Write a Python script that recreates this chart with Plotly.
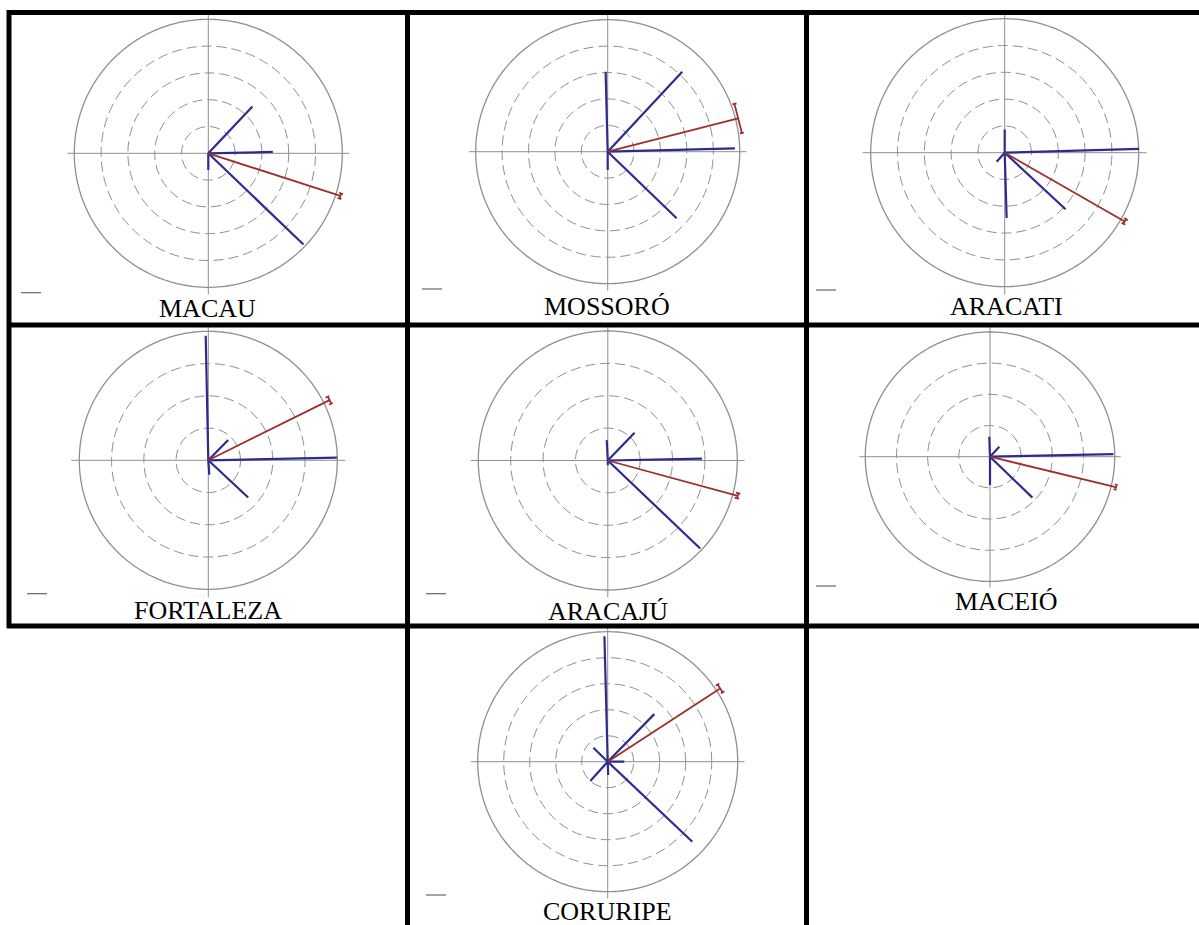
import numpy as np
import plotly.graph_objects as go

W, H = 1199, 925

# ---------------- DATA ----------------
stations = ["MACAU", "MOSSORÓ", "ARACATI", "FORTALEZA", "ARACAJÚ", "MACEIÓ", "CORURIPE"]
n_rings = [5, 5, 5, 4, 4, 4, 5]

# component vectors (direction in degrees, counter-clockwise from east; magnitude in ring units)
macau_dir = [1.2, 46.7, -43.8, -90.0]
macau_mag = [2.41, 2.40, 4.92, 0.62]
mossoro_dir = [1.5, 47.0, 91.5, -44.0, -90.0]
mossoro_mag = [4.82, 4.14, 3.03, 3.63, 0.69]
aracati_dir = [1.6, 90.0, -88.3, -42.9, -132.0]
aracati_mag = [5.01, 0.87, 2.44, 3.10, 0.45]
fortaleza_dir = [1.2, 45.5, 91.2, -43.0, -86.0]
fortaleza_mag = [3.99, 0.88, 3.86, 1.69, 0.45]
aracaju_dir = [1.2, 46.0, 93.0, -43.6, -90.0]
aracaju_mag = [2.91, 1.19, 0.63, 3.94, 0.15]
maceio_dir = [1.2, 47.0, 92.0, -44.0, -90.0]
maceio_mag = [3.96, 0.44, 0.64, 1.89, 0.91]
coruripe_dir = [0.0, 45.6, 91.5, 135.7, -132.0, -88.0, -43.4]
coruripe_mag = [0.64, 2.56, 4.83, 0.77, 1.00, 0.51, 4.48]

# resultant vector with its error (half width of the error bar)
resultant_dir = [-17.9, 14.3, -29.8, 26.4, -15.2, -13.6, 33.1]
resultant_mag = [5.18, 5.10, 5.16, 4.20, 4.16, 4.18, 5.16]
resultant_err = [0.10, 0.57, 0.10, 0.12, 0.08, 0.08, 0.18]

component_dirs = [macau_dir, mossoro_dir, aracati_dir, fortaleza_dir, aracaju_dir, maceio_dir, coruripe_dir]
component_mags = [macau_mag, mossoro_mag, aracati_mag, fortaleza_mag, aracaju_mag, maceio_mag, coruripe_mag]

# ---------------- LAYOUT (pixels) ----------------
# center x, center y, pixel radius of outer ring, pixel radius of axis cross
panel_px = [
    (208.3, 153.3, 134.0, 141.0),
    (607.7, 151.7, 132.0, 138.7),
    (1004.7, 152.7, 134.0, 142.0),
    (208.3, 460.3, 129.0, 137.0),
    (607.8, 460.5, 129.5, 136.8),
    (990.0, 456.7, 124.7, 130.7),
    (607.7, 761.7, 130.0, 136.8),
]
label_px = [
    (207.7, 309), (606.7, 307), (1006.7, 307),
    (207.5, 610), (607.5, 611), (1006.0, 601),
    (607.5, 911),
]
scalebar_px = [
    (21, 41, 292.7), (422, 442, 289), (816, 836, 290),
    (27, 47, 593.7), (426, 446, 593.7), (816, 836, 586),
    (426, 446, 895),
]

BLUE = "#2c2c8e"
RED = "#9c2f2a"
GRID = "#8f8f8f"


def X(x):
    return x / W


def Y(y):
    return 1 - y / H


fig = go.Figure()
layout_polars = {}

for i, name in enumerate(stations):
    key = "polar" if i == 0 else f"polar{i+1}"
    cx, cy, r_ring, r_cross = panel_px[i]
    nr = n_rings[i]
    rmax = nr * r_cross / r_ring
    layout_polars[key] = dict(
        domain=dict(x=[X(cx - r_cross), X(cx + r_cross)],
                    y=[Y(cy + r_cross), Y(cy - r_cross)]),
        bgcolor="rgba(0,0,0,0)",
        radialaxis=dict(range=[0, rmax], tickvals=list(range(1, nr)),
                        showticklabels=False, ticks="", showline=False,
                        gridcolor=GRID, gridwidth=1.4, griddash="10px,5px"),
        angularaxis=dict(tickvals=[0, 90, 180, 270], showticklabels=False,
                         ticks="", showline=False, showgrid=True,
                         gridcolor=GRID, gridwidth=1.3),
    )

    # outer solid ring
    th = np.linspace(0, 360, 361)
    fig.add_trace(go.Scatterpolar(r=[nr] * len(th), theta=th, mode="lines",
                                  line=dict(color=GRID, width=1.3),
                                  subplot=key, showlegend=False, hoverinfo="skip"))

    # component vectors
    rr, tt = [], []
    for d, m in zip(component_dirs[i], component_mags[i]):
        rr += [0, m, None]
        tt += [d, d, None]
    fig.add_trace(go.Scatterpolar(r=rr, theta=tt, mode="lines",
                                  line=dict(color=BLUE, width=2.2),
                                  subplot=key, showlegend=False))

    # resultant vector
    d = resultant_dir[i]
    m = resultant_mag[i]
    e = resultant_err[i]
    fig.add_trace(go.Scatterpolar(r=[0, m], theta=[d, d], mode="lines",
                                  line=dict(color=RED, width=1.8),
                                  subplot=key, showlegend=False))

    # error bar at the tip (computed from magnitude, direction and error)
    a = np.radians(d)
    u = np.array([np.cos(a), np.sin(a)])
    nvec = np.array([-np.sin(a), np.cos(a)])
    P = m * u
    c = 0.08
    segs = [
        (P - e * nvec, P + e * nvec),
        (P + e * nvec - c * u, P + e * nvec + c * u),
        (P - e * nvec - c * u, P - e * nvec + c * u),
    ]
    er, et = [], []
    for p0, p1 in segs:
        for p in (p0, p1):
            er.append(float(np.hypot(*p)))
            et.append(float(np.degrees(np.arctan2(p[1], p[0]))))
        er.append(None)
        et.append(None)
    fig.add_trace(go.Scatterpolar(r=er, theta=et, mode="lines",
                                  line=dict(color=RED, width=1.8),
                                  subplot=key, showlegend=False))

# labels
annotations = []
for i, name in enumerate(stations):
    lx, ly = label_px[i]
    annotations.append(dict(text=name, x=X(lx), y=Y(ly), xref="paper", yref="paper",
                            xanchor="center", yanchor="middle", showarrow=False,
                            font=dict(family="Liberation Serif, Times New Roman, serif",
                                      size=26, color="black")))

# table borders and scale bars
shapes = []
def hline(y, x0, x1, w=5):
    shapes.append(dict(type="line", xref="paper", yref="paper",
                       x0=X(x0), x1=X(x1), y0=Y(y), y1=Y(y),
                       line=dict(color="black", width=w)))

def vline(x, y0, y1, w=5):
    shapes.append(dict(type="line", xref="paper", yref="paper",
                       x0=X(x), x1=X(x), y0=Y(y0), y1=Y(y1),
                       line=dict(color="black", width=w)))

hline(12.5, 7, W)
hline(325, 7, W)
hline(626, 7, W)
vline(9, 10, 628)
vline(407.5, 10, H)
vline(806.5, 10, H)

for x0, x1, y in scalebar_px:
    shapes.append(dict(type="line", xref="paper", yref="paper",
                       x0=X(x0), x1=X(x1), y0=Y(y), y1=Y(y),
                       line=dict(color="#666666", width=1.2)))

fig.update_layout(
    width=W, height=H,
    margin=dict(l=0, r=0, t=0, b=0),
    paper_bgcolor="white", plot_bgcolor="white",
    showlegend=False,
    annotations=annotations,
    shapes=shapes,
    **layout_polars,
)

fig.write_html("out.html",
               config={"displayModeBar": False},
               post_script="document.body.style.margin='0px';document.body.style.overflow='hidden';")
